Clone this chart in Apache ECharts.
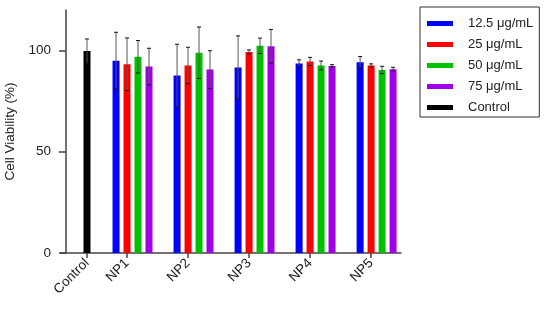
<!DOCTYPE html>
<html>
<head>
<meta charset="utf-8">
<script src="https://cdn.jsdelivr.net/npm/echarts@6/dist/echarts.min.js"></script>
<style>
  html, body { margin: 0; padding: 0; background: #fff; }
  #chart { width: 550px; height: 311px; }
</style>
</head>
<body>
<div id="chart"></div>
<script>
const groups = ['NP1', 'NP2', 'NP3', 'NP4', 'NP5']
const seriesNames = ['12.5 μg/mL', '25 μg/mL', '50 μg/mL', '75 μg/mL']
const means = [
  [95, 87.6, 91.6, 93.6, 94.2],     // 12.5
  [93.2, 92.6, 99.3, 94.6, 92.6],   // 25
  [96.9, 98.9, 102.3, 92.6, 90.4],  // 50
  [92.1, 90.6, 102.1, 92.4, 90.8],  // 75
]
const errors = [
  [14, 15.5, 15.6, 1.8, 2.8],
  [13, 9, 1, 2, 0.8],
  [8, 12.7, 3.8, 2.2, 1.8],
  [9, 9.3, 8.3, 0.6, 0.9],
]
const controlMean = 99.7
const controlErr = 6
const yTicks = [0, 50, 100]

// layout on the x value axis (1 unit = distance between NP groups)
const colors = ['#0000ff', '#ff0000', '#00c000', '#a000e6']
const barStep = 0.18
const controlX = 0.344
const tickOffset = 1 // tick sits under the 2nd bar of each group

const xPos = (g, s) => g + tickOffset + (s - 1) * barStep
const tickValues = [controlX, ...groups.map((_, g) => g + tickOffset)]
const tickNames = ['Control', ...groups]

const chart = echarts.init(document.getElementById('chart'))

const barSeries = seriesNames.map((name, s) => ({
  name,
  type: 'bar',
  barWidth: 7,
  barGap: '-100%',
  itemStyle: { color: colors[s] },
  data: means[s].map((v, g) => [xPos(g, s), v]),
}))

const errData = []
means.forEach((arr, s) => arr.forEach((v, g) => errData.push([xPos(g, s), v, errors[s][g]])))
errData.push([controlX, controlMean, controlErr])

chart.setOption({
  animation: false,
  textStyle: { fontFamily: 'Liberation Sans, Arial, sans-serif' },
  legend: {
    orient: 'vertical',
    left: 420,
    top: 7,
    padding: [9, 6, 2, 7],
    itemGap: 6,
    itemWidth: 26,
    itemHeight: 5,
    icon: 'rect',
    borderColor: '#333',
    borderWidth: 1,
    textStyle: { fontSize: 13, color: '#222', padding: [0, 0, 0, 10], lineHeight: 15 },
    data: [...seriesNames, 'Control'],
  },
  grid: { left: 61, right: 149, top: 10, bottom: 58, outerBoundsMode: 'none', containLabel: false },
  xAxis: {
    type: 'value',
    min: -0.082,
    max: 5.49,
    splitLine: { show: false },
    axisLine: { show: true, lineStyle: { color: '#444', width: 1.5 } },
    axisTick: { show: true, length: 5, customValues: tickValues, lineStyle: { color: '#444', width: 1.5 } },
    axisLabel: {
      customValues: tickValues,
      rotate: 45,
      fontSize: 13.5,
      color: '#222',
      margin: 8,
      formatter: (v) => tickNames[tickValues.findIndex((t) => Math.abs(t - v) < 1e-6)] || '',
    },
  },
  yAxis: {
    type: 'value',
    min: 0,
    max: 120,
    name: 'Cell Viability (%)',
    nameLocation: 'middle',
    nameGap: 37,
    nameTextStyle: { fontSize: 13.5, color: '#222' },
    splitLine: { show: false },
    axisLine: { show: true, lineStyle: { color: '#444', width: 1.5 } },
    axisTick: { show: true, length: 7, customValues: yTicks, lineStyle: { color: '#444', width: 1.5 } },
    axisLabel: { customValues: yTicks, fontSize: 13.5, color: '#222', margin: 10 },
  },
  series: [
    ...barSeries,
    {
      name: 'Control',
      type: 'bar',
      barWidth: 7,
      barGap: '-100%',
      itemStyle: { color: '#000' },
      data: [[controlX, controlMean]],
    },
    {
      type: 'custom',
      z: 10,
      silent: true,
      data: errData,
      encode: { x: 0, y: 1 },
      renderItem: (params, api) => {
        const x = api.value(0)
        const y = api.value(1)
        const e = api.value(2)
        const top = api.coord([x, y + e])
        const bot = api.coord([x, y - e])
        const cap = 2
        const style = { stroke: '#555', lineWidth: 1 }
        return {
          type: 'group',
          children: [
            { type: 'line', shape: { x1: top[0], y1: top[1], x2: bot[0], y2: bot[1] }, style },
            { type: 'line', shape: { x1: top[0] - cap, y1: top[1], x2: top[0] + cap, y2: top[1] }, style: { stroke: '#111', lineWidth: 1 } },
            { type: 'line', shape: { x1: bot[0] - cap, y1: bot[1], x2: bot[0] + cap, y2: bot[1] }, style: { stroke: '#111', lineWidth: 1 } },
          ],
        }
      },
    },
  ],
})
</script>
</body>
</html>
